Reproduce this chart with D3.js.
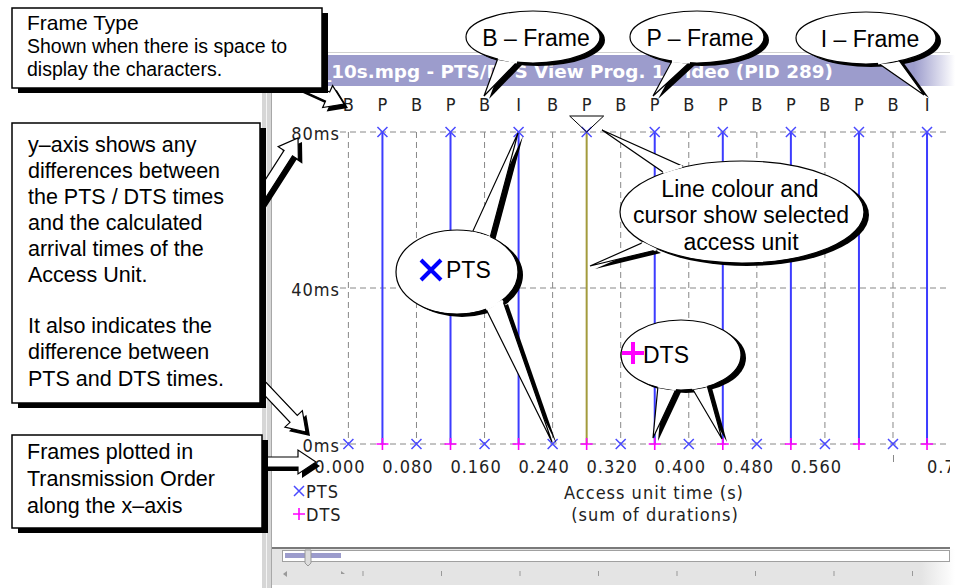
<!DOCTYPE html>
<html>
<head>
<meta charset="utf-8">
<script src="https://cdn.jsdelivr.net/npm/d3@7"></script>
<style>
  body { margin: 0; background: #fff; }
  svg { display: block; }
  .chartText { font-family: "Liberation Sans Narrow", "Arial Narrow", "DejaVu Sans Condensed", sans-serif; font-size: 18px; letter-spacing: 1px; fill: #222; }
  .note { font-family: "Liberation Sans", Arial, Helvetica, sans-serif; fill: #000; }
</style>
</head>
<body>
<svg id="chart" width="958" height="588"></svg>
<script>
// ---- data ----
const frameTypes = ['B','P','B','P','B','I','B','P','B','P','B','P','B','P','B','P','B','I'];
const frameTimes = [0.00,0.04,0.08,0.12,0.16,0.20,0.24,0.28,0.32,0.36,0.40,0.44,0.48,0.52,0.56,0.60,0.64,0.68];
const ptsMs = [0,80,0,80,0,80,0,80,0,80,0,80,0,80,0,80,0,80];
const dtsMs = [null,0,null,0,null,0,null,0,null,0,null,0,null,0,null,0,null,0];
const selectedFrame = 7;
const xTickValues = [0,0.08,0.16,0.24,0.32,0.40,0.48,0.56,0.64,0.72];
const xTickLabels = ['0.000','0.080','0.160','0.240','0.320','0.400','0.480','0.560','','0.720'];
const yTickValues = [0,40,80];
const yTickLabels = ['0ms','40ms','80ms'];
const titleHead = 'Stream1';
const titleTail = '_10s.mpg - PTS/DTS View Prog. 1 Video (PID 289)';

const svg = d3.select('#chart');
const plotLeft = 345, plotRight = 950;

var x = d3.scaleLinear().domain([-0.004, 0.707]).range([plotLeft, plotRight]);
var y = d3.scaleLinear().domain([0, 80]).range([444, 132]);

const blue = '#3c3cff', magenta = '#ff00ff', olive = '#a39b3c';

// ---- window chrome ----
let grad = svg.append('defs').append('linearGradient').attr('id', 'fadeRight');
grad.append('stop').attr('offset', '0.94').attr('stop-color', '#9c9ccc');
grad.append('stop').attr('offset', '1').attr('stop-color', '#fff');

let clip = svg.select('defs').append('clipPath').attr('id', 'plotClip');
clip.append('rect').attr('x', 280).attr('y', 0).attr('width', plotRight - 280).attr('height', 588);

svg.append('line').attr('x1', 270).attr('x2', 950).attr('y1', 52.5).attr('y2', 52.5)
    .attr('stroke', '#d0d0d0');
svg.append('rect').attr('x', 270).attr('y', 55).attr('width', 685).attr('height', 31)
    .attr('fill', 'url(#fadeRight)');
const titleStyle = sel => sel
    .style('font-family', '"DejaVu Sans", Verdana, sans-serif')
    .style('font-weight', 'bold').style('font-size', '17px')
    .attr('fill', '#fff');
svg.append('text').attr('x', 322).attr('y', 78).attr('text-anchor', 'end')
    .call(titleStyle).text(titleHead);
svg.append('text').attr('x', 322).attr('y', 78)
    .attr('textLength', 511).attr('lengthAdjust', 'spacingAndGlyphs')
    .call(titleStyle).text(titleTail);

svg.append('rect').attr('x', 262).attr('y', 86).attr('width', 9).attr('height', 502).attr('fill', '#d6d6d6');
svg.append('line').attr('x1', 266.5).attr('x2', 266.5).attr('y1', 86).attr('y2', 588).attr('stroke', '#f4f4f4');
svg.append('line').attr('x1', 271.5).attr('x2', 271.5).attr('y1', 86).attr('y2', 588).attr('stroke', '#a8a8a8');

// ---- grid ----
const grid = svg.append('g').attr('clip-path', 'url(#plotClip)');
grid.selectAll('line.h')
    .data(yTickValues)
    .enter().append('line')
    .attr('class', 'h')
    .attr('x1', 340).attr('x2', plotRight)
    .attr('y1', d => y(d)).attr('y2', d => y(d))
    .attr('stroke', '#888').attr('stroke-dasharray', '6,4');
grid.selectAll('line.v')
    .data(xTickValues)
    .enter().append('line')
    .attr('class', 'v')
    .attr('x1', d => x(d)).attr('x2', d => x(d))
    .attr('y1', y(80)).attr('y2', y(0))
    .attr('stroke', '#888').attr('stroke-dasharray', '6,4');

// ---- axes ----
var xAxis = d3.axisBottom(x)
    .tickValues(xTickValues)
    .tickFormat((d, i) => xTickLabels[i])
    .tickSize(0)
    .tickPadding(0);
var xAxisEl = svg.append('g')
    .attr('clip-path', 'url(#plotClip)')
    .append('g')
    .attr('transform', 'translate(0, 458)')
    .call(xAxis);
xAxisEl.select('.domain').remove();
xAxisEl.selectAll('.tick text')
    .attr('class', 'chartText')
    .attr('dx', -9).attr('dy', 0).attr('y', 15)
    .attr('fill', null);
xAxisEl.selectAll('.tick')
    .filter((d, i) => xTickLabels[i] === '')
    .append('line').attr('y1', -3).attr('y2', 4).attr('stroke', '#888');

var yAxis = d3.axisLeft(y)
    .tickValues(yTickValues)
    .tickFormat((d, i) => yTickLabels[i])
    .tickSize(0)
    .tickPadding(0);
var yAxisEl = svg.append('g')
    .attr('transform', 'translate(340, 0)')
    .call(yAxis);
yAxisEl.select('.domain').remove();
yAxisEl.selectAll('.tick text')
    .attr('class', 'chartText')
    .attr('dy', 7).attr('fill', null);

// frame type letters
svg.append('g').selectAll('text')
    .data(frameTypes)
    .enter().append('text')
    .attr('class', 'chartText')
    .attr('x', (d, i) => x(frameTimes[i]))
    .attr('y', 111)
    .attr('text-anchor', 'middle')
    .style('letter-spacing', '0px')
    .text(d => d);

// ---- marks ----
const marks = svg.append('g');
const pairs = frameTimes.map((t, i) => ({ t: t, pts: ptsMs[i], dts: dtsMs[i], i: i }));

marks.selectAll('line.au')
    .data(pairs.filter(d => d.dts !== null))
    .enter().append('line')
    .attr('class', 'au')
    .attr('x1', d => x(d.t)).attr('x2', d => x(d.t))
    .attr('y1', d => y(d.dts)).attr('y2', d => y(d.pts))
    .attr('stroke', d => d.i === selectedFrame ? olive : blue)
    .attr('stroke-width', 2);

const dtsSize = 6;
marks.selectAll('path.dts')
    .data(pairs.filter(d => d.dts !== null))
    .enter().append('path')
    .attr('class', 'dts')
    .attr('d', d => {
        const cx = x(d.t), cy = y(d.dts);
        return `M${cx - dtsSize},${cy}H${cx + dtsSize}M${cx},${cy - dtsSize}V${cy + dtsSize}`;
    })
    .attr('stroke', magenta).attr('stroke-width', 1.6);

const ptsSize = 5;
marks.selectAll('path.pts')
    .data(pairs)
    .enter().append('path')
    .attr('class', 'pts')
    .attr('d', d => {
        const cx = x(d.t), cy = y(d.pts);
        return `M${cx - ptsSize},${cy - ptsSize}L${cx + ptsSize},${cy + ptsSize}M${cx - ptsSize},${cy + ptsSize}L${cx + ptsSize},${cy - ptsSize}`;
    })
    .attr('stroke', '#4a4aff').attr('stroke-width', 1.5);

// cursor
const cx0 = x(frameTimes[selectedFrame]);
svg.append('path')
    .attr('d', `M${cx0 - 17},116H${cx0 + 17}L${cx0},${y(80)}Z`)
    .attr('fill', 'none').attr('stroke', '#000').attr('stroke-width', 1);

// legend + axis title
const legend = svg.append('g');
legend.append('path').attr('d', 'M294,486L304,496M294,496L304,486').attr('stroke', '#4a4aff').attr('stroke-width', 1.5);
legend.append('text').attr('class', 'chartText').attr('x', 306).attr('y', 498).text('PTS');
legend.append('path').attr('d', 'M293,514H305M299,508V520').attr('stroke', magenta).attr('stroke-width', 1.6);
legend.append('text').attr('class', 'chartText').attr('x', 306).attr('y', 521).text('DTS');

svg.append('text').attr('class', 'chartText').attr('x', 654).attr('y', 499)
    .attr('text-anchor', 'middle').text('Access unit time (s)');
svg.append('text').attr('class', 'chartText').attr('x', 655).attr('y', 521)
    .attr('text-anchor', 'middle').text('(sum of durations)');

// ---- scrollbar ----
let sgrad = svg.select('defs').append('linearGradient').attr('id', 'fadeGray');
sgrad.append('stop').attr('offset', '0.95').attr('stop-color', '#e4e4e4');
sgrad.append('stop').attr('offset', '1').attr('stop-color', '#fff');
svg.append('line').attr('x1', 272).attr('x2', 950).attr('y1', 548).attr('y2', 548)
    .attr('stroke', '#7a7a7a').attr('stroke-width', 2);
svg.append('rect').attr('x', 272).attr('y', 549).attr('width', 683).attr('height', 36).attr('fill', 'url(#fadeGray)');
svg.append('rect').attr('x', 282.5).attr('y', 550.5).attr('width', 667).attr('height', 11)
    .attr('fill', '#fff').attr('stroke', '#a0a0a0');
svg.append('rect').attr('x', 285).attr('y', 553).attr('width', 56).attr('height', 5).attr('fill', '#9c9ccc');
svg.append('path').attr('d', 'M305,550H311V563L308,566L305,563Z').attr('fill', '#dcdcdc').attr('stroke', '#999');
svg.append('g').selectAll('line')
    .data(d3.range(363, 950, 78.5))
    .enter().append('line')
    .attr('x1', d => d).attr('x2', d => d).attr('y1', 571).attr('y2', 576)
    .attr('stroke', '#999');
svg.append('path').attr('d', 'M283,574L287,571V577Z').attr('fill', '#999');
svg.append('path').attr('d', 'M341,571L345,574H341Z').attr('fill', '#999');

// ---- annotations ----
const notes = svg.append('g');

function blockArrow(x1, y1, x2, y2) {
    const dx = x2 - x1, dy = y2 - y1, len = Math.hypot(dx, dy);
    const ux = dx / len, uy = dy / len, nx = -uy, ny = ux;
    const sw = 5, hw = 12, hl = 18;
    const bx = x2 - ux * hl, by = y2 - uy * hl;
    const pts = [[x1 + nx * sw, y1 + ny * sw], [bx + nx * sw, by + ny * sw], [bx + nx * hw, by + ny * hw], [x2, y2],
                 [bx - nx * hw, by - ny * hw], [bx - nx * sw, by - ny * sw], [x1 - nx * sw, y1 - ny * sw]];
    const d = d3.line()(pts) + 'Z';
    notes.append('path').attr('d', d).attr('transform', 'translate(4,4)').attr('fill', '#000');
    notes.append('path').attr('d', d).attr('fill', '#fff').attr('stroke', '#000').attr('stroke-width', 1.2);
}

function calloutBox(bx, by, bw, bh, lines) {
    notes.append('rect').attr('x', bx + 6).attr('y', by + 5).attr('width', bw).attr('height', bh).attr('fill', '#000');
    notes.append('rect').attr('x', bx).attr('y', by).attr('width', bw).attr('height', bh)
        .attr('fill', '#fff').attr('stroke', '#000').attr('stroke-width', 1.5);
    lines.forEach(l => {
        notes.append('text').attr('class', 'note').attr('x', l.x).attr('y', l.y)
            .style('font-size', l.size + 'px').text(l.text);
    });
}

function bubble(cx, cy, rx, ry, tails) {
    const tailPath = t => d3.line()([t[0], t[1], t[2]]) + 'Z';
    const g = notes.append('g');
    const sh = g.append('g').attr('transform', 'translate(5,3)');
    sh.append('ellipse').attr('cx', cx).attr('cy', cy).attr('rx', rx).attr('ry', ry).attr('fill', '#000');
    tails.forEach(t => sh.append('path').attr('d', tailPath(t)).attr('fill', '#000'));
    tails.forEach(t => g.append('path').attr('d', tailPath(t)).attr('fill', '#fff').attr('stroke', '#000').attr('stroke-width', 1.2));
    g.append('ellipse').attr('cx', cx).attr('cy', cy).attr('rx', rx).attr('ry', ry)
        .attr('fill', '#fff').attr('stroke', '#000').attr('stroke-width', 1.2);
    tails.forEach(t => g.append('path').attr('d', d3.line()([t[0], t[1]])).attr('stroke', '#fff').attr('stroke-width', 3));
    return g;
}

blockArrow(300, 84, 344, 104);
blockArrow(255, 205, 298, 138);
blockArrow(255, 378, 306, 432);
blockArrow(255, 462, 316, 462);

calloutBox(12, 8, 310, 80, [
    { x: 27, y: 30, size: 21, text: 'Frame Type' },
    { x: 27, y: 53, size: 19.5, text: 'Shown when there is space to' },
    { x: 27, y: 76, size: 19.5, text: 'display the characters.' }
]);
calloutBox(12, 123, 248, 280, [
    { x: 28, y: 152, size: 21.5, text: 'y\u2013axis shows any' },
    { x: 28, y: 178, size: 21.5, text: 'differences between' },
    { x: 28, y: 204, size: 21.5, text: 'the PTS / DTS times' },
    { x: 28, y: 230, size: 21.5, text: 'and the calculated' },
    { x: 28, y: 256, size: 21.5, text: 'arrival times of the' },
    { x: 28, y: 282, size: 21.5, text: 'Access Unit.' },
    { x: 28, y: 333, size: 21.5, text: 'It also indicates the' },
    { x: 28, y: 359, size: 21.5, text: 'difference between' },
    { x: 28, y: 386, size: 21.5, text: 'PTS and DTS times.' }
]);
calloutBox(12, 435, 250, 93, [
    { x: 27, y: 459, size: 21.5, text: 'Frames plotted in' },
    { x: 27, y: 486, size: 21.5, text: 'Transmission Order' },
    { x: 27, y: 513, size: 21.5, text: 'along the x\u2013axis' }
]);

const bubbleText = (g, tx, ty, s) => g.append('text').attr('class', 'note').attr('x', tx).attr('y', ty)
    .attr('text-anchor', 'middle').style('font-size', '23px').text(s);

bubbleText(bubble(533, 37, 67, 26, [[[498, 58], [517, 62], [484, 96]]]), 536, 46, 'B \u2013 Frame');
bubbleText(bubble(697, 37, 67, 26, [[[672, 61], [690, 62], [653, 96]]]), 700, 46, 'P \u2013 Frame');
bubbleText(bubble(866, 38, 70, 26, [[[878, 63], [898, 59], [924, 95]]]), 870, 47, 'I \u2013 Frame');

let ptsB = bubble(457, 272, 61, 42, [[[472, 233], [490, 238], [518, 133]], [[486, 309], [503, 301], [552, 442]]]);
ptsB.append('path').attr('d', 'M421,260L441,280M421,280L441,260').attr('stroke', '#0000ff').attr('stroke-width', 4);
ptsB.append('text').attr('class', 'note').attr('x', 446).attr('y', 278).style('font-size', '23px').text('PTS');

let dtsB = bubble(681, 355, 60, 35, [[[658, 386], [676, 389], [653, 438]], [[692, 388], [707, 385], [722, 439]]]);
dtsB.append('path').attr('d', 'M622,353H644M633,342V364').attr('stroke', magenta).attr('stroke-width', 4);
dtsB.append('text').attr('class', 'note').attr('x', 643).attr('y', 363).style('font-size', '23px').text('DTS');

let selB = bubble(742, 212, 122, 51, [[[663, 172], [682, 166], [602, 130]], [[642, 243], [656, 250], [590, 266]]]);
bubbleText(selB, 740, 197, 'Line colour and');
bubbleText(selB, 741, 223, 'cursor show selected');
bubbleText(selB, 741, 250, 'access unit');
</script>
</body>
</html>
